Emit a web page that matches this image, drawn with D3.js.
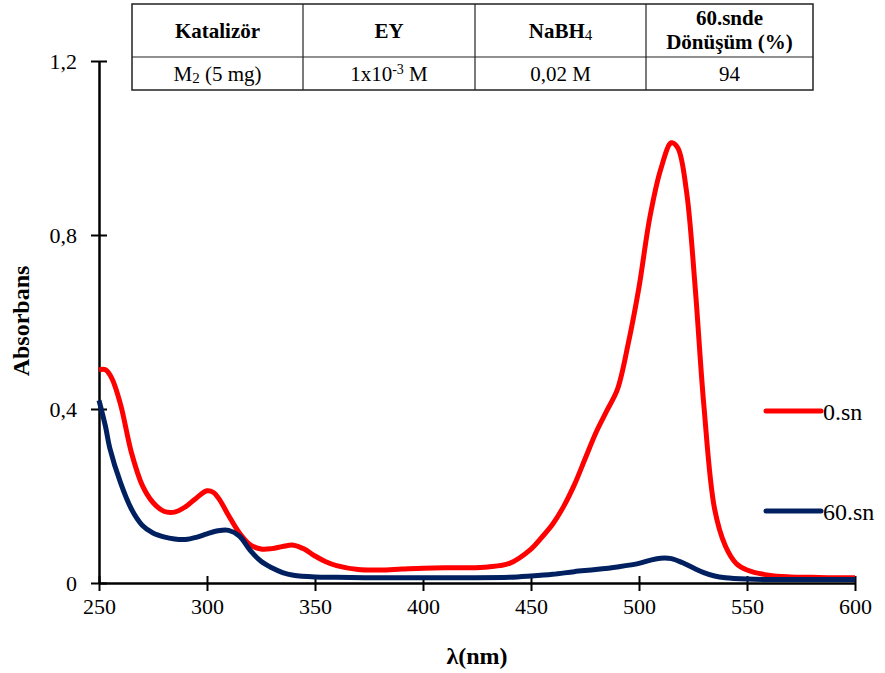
<!DOCTYPE html>
<html>
<head>
<meta charset="utf-8">
<script src="https://cdn.jsdelivr.net/npm/d3@7"></script>
<style>
  body { margin: 0; background: #fff; }
</style>
</head>
<body>
<div id="chart"></div>
<script>
// wavelengths (nm) and absorbance values
const wl0 = [250,253,256,260,265,270,275,280,285,290,295,300,303,306,310,315,320,325,330,335,340,345,350,355,360,370,380,390,400,410,420,430,440,450,455,460,465,470,475,480,485,490,495,500,505,510,515,518,522,526,530,535,540,545,550,560,570,580,590,600];
const abs0 = [0.49,0.49,0.47,0.41,0.30,0.225,0.185,0.165,0.163,0.175,0.195,0.212,0.208,0.19,0.155,0.115,0.088,0.078,0.079,0.084,0.087,0.078,0.062,0.049,0.04,0.031,0.03,0.032,0.034,0.035,0.035,0.037,0.045,0.078,0.105,0.135,0.175,0.225,0.285,0.345,0.395,0.445,0.55,0.68,0.84,0.95,1.012,1.0,0.9,0.68,0.41,0.17,0.085,0.045,0.03,0.018,0.014,0.013,0.012,0.012];

const wl60 = [250,253,255,260,265,270,275,280,285,290,295,300,305,310,315,320,325,330,335,340,350,360,380,400,420,440,450,460,470,480,490,500,505,510,515,520,525,530,535,540,550,560,580,600];
const abs60 = [0.42,0.36,0.31,0.23,0.17,0.133,0.115,0.106,0.101,0.1,0.105,0.113,0.12,0.121,0.108,0.075,0.05,0.035,0.024,0.018,0.014,0.013,0.012,0.012,0.012,0.013,0.016,0.02,0.026,0.031,0.037,0.045,0.052,0.057,0.056,0.047,0.035,0.024,0.016,0.012,0.009,0.008,0.008,0.008];

const seriesNames = ["0.sn", "60.sn"];
const seriesColors = ["#ff0000", "#002060"];

const xTicks = [250,300,350,400,450,500,550,600];
const yTicks = [0, 0.4, 0.8, 1.2];

const tableHead = ["Katalizör", "EY", "NaBH4", "60.snde|Dönüşüm (%)"];
const tableRow = ["M2 (5 mg)", "1x10-3 M", "0,02 M", "94"];

const width = 885, height = 673;
const serif = "'Liberation Serif', 'Times New Roman', Tinos, serif";

let svg = d3.select("#chart")
    .append("svg")
    .attr("width", width)
    .attr("height", height)
    .attr("font-family", serif);

let x = d3.scaleLinear()
    .domain([250, 600])
    .range([99, 855]);

let y = d3.scaleLinear()
    .domain([0, 1.2])
    .range([583, 61]);

const fmt = d => String(d).replace(".", ",");

// x axis, ticks cross the line
let xAxis = svg.append("g")
    .attr("transform", `translate(0,${y(0)})`)
    .call(d3.axisBottom(x).tickValues(xTicks).tickSize(0).tickPadding(15))
    .attr("font-family", serif);
xAxis.select(".domain").attr("stroke", "#000").attr("stroke-width", 2.5);
xAxis.selectAll(".tick line").remove();
xAxis.selectAll(".tick").append("line")
    .attr("y1", -7).attr("y2", 8)
    .attr("stroke", "#000").attr("stroke-width", 2);
xAxis.selectAll(".tick text")
    .attr("font-size", 22).attr("fill", "#000")
    .attr("dy", "0.71em");

let yAxis = svg.append("g")
    .attr("transform", `translate(${x(250)},0)`)
    .call(d3.axisLeft(y).tickValues(yTicks).tickFormat(fmt).tickSize(0).tickPadding(22))
    .attr("font-family", serif);
yAxis.select(".domain").attr("stroke", "#000").attr("stroke-width", 2.5);
yAxis.selectAll(".tick line").remove();
yAxis.selectAll(".tick").append("line")
    .attr("x1", -8).attr("x2", 8)
    .attr("stroke", "#000").attr("stroke-width", 2);
yAxis.selectAll(".tick text")
    .attr("font-size", 22).attr("fill", "#000");

svg.append("text")
    .attr("text-anchor", "middle")
    .attr("x", 477)
    .attr("y", 664)
    .attr("font-size", 24)
    .attr("font-weight", "bold")
    .text("λ(nm)");

svg.append("text")
    .attr("text-anchor", "middle")
    .attr("transform", "translate(29,321) rotate(-90)")
    .attr("font-size", 24)
    .attr("font-weight", "bold")
    .text("Absorbans");

// spectra
let line = d3.line()
    .x(d => x(d[0]))
    .y(d => y(d[1]))
    .curve(d3.curveCatmullRom.alpha(0.5));

const series = [d3.zip(wl0, abs0), d3.zip(wl60, abs60)];

svg.selectAll(".spectrum")
    .data(series)
    .join("path")
    .attr("class", "spectrum")
    .attr("fill", "none")
    .attr("stroke", (d, i) => seriesColors[i])
    .attr("stroke-width", 5)
    .attr("stroke-linejoin", "round")
    .attr("d", line);

// legend
let legend = svg.selectAll(".legend")
    .data(seriesNames)
    .join("g")
    .attr("class", "legend")
    .attr("transform", (d, i) => `translate(766,${411 + i * 100})`);

legend.append("line")
    .attr("x1", 0).attr("x2", 55)
    .attr("stroke", (d, i) => seriesColors[i])
    .attr("stroke-width", 5)
    .attr("stroke-linecap", "round");

legend.append("text")
    .attr("x", 57)
    .attr("y", 9)
    .attr("font-size", 24)
    .text(d => d);

// table on top
const colX = [132, 303, 475, 646, 813];
const rowY = [4, 57, 90];

let tbl = svg.append("g");
tbl.append("rect")
    .attr("x", colX[0]).attr("y", rowY[0])
    .attr("width", colX[4] - colX[0]).attr("height", rowY[2] - rowY[0])
    .attr("fill", "#fff").attr("stroke", "#222").attr("stroke-width", 1.5);
tbl.append("line")
    .attr("x1", colX[0]).attr("x2", colX[4])
    .attr("y1", rowY[1]).attr("y2", rowY[1])
    .attr("stroke", "#222").attr("stroke-width", 1.2);
tbl.selectAll(".col")
    .data(colX.slice(1, 4))
    .join("line")
    .attr("x1", d => d).attr("x2", d => d)
    .attr("y1", rowY[0]).attr("y2", rowY[2])
    .attr("stroke", "#222").attr("stroke-width", 1.2);

const cx = i => (colX[i] + colX[i + 1]) / 2;

// header cells
tableHead.forEach((t, i) => {
    let txt = tbl.append("text")
        .attr("text-anchor", "middle")
        .attr("font-size", 21)
        .attr("font-weight", "bold")
        .attr("x", cx(i));
    if (t.includes("|")) {
        let parts = t.split("|");
        txt.attr("y", 25);
        txt.append("tspan").attr("x", cx(i)).text(parts[0]);
        txt.append("tspan").attr("x", cx(i)).attr("dy", 24).text(parts[1]);
    } else if (t === "NaBH4") {
        txt.attr("y", 38);
        txt.append("tspan").text("NaBH");
        txt.append("tspan").attr("font-size", 15).attr("font-weight", "normal").attr("dy", 2).text("4");
    } else {
        txt.attr("y", 38).text(t);
    }
});

// value cells
tableRow.forEach((t, i) => {
    let txt = tbl.append("text")
        .attr("text-anchor", "middle")
        .attr("font-size", 21)
        .attr("x", cx(i))
        .attr("y", 81);
    if (i === 0) {
        txt.append("tspan").text("M");
        txt.append("tspan").attr("font-size", 15).attr("dy", 2).text("2");
        txt.append("tspan").attr("dy", -2).text(" (5 mg)");
    } else if (i === 1) {
        txt.append("tspan").text("1x10");
        txt.append("tspan").attr("font-size", 14).attr("dy", -7).text("-3");
        txt.append("tspan").attr("dy", 7).text(" M");
    } else {
        txt.text(t);
    }
});
</script>
</body>
</html>
